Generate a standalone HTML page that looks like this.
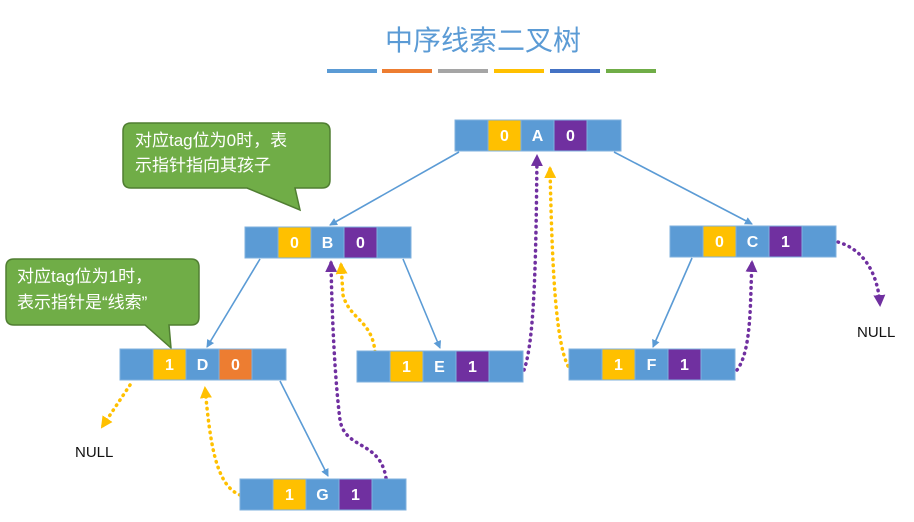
<!DOCTYPE html>
<html><head><meta charset="utf-8"><style>
body{margin:0;background:#fff;}
svg{display:block;font-family:"Liberation Sans","Noto Sans CJK SC",sans-serif;}
</style></head><body>
<svg width="914" height="522" viewBox="0 0 914 522" xmlns="http://www.w3.org/2000/svg">
<defs>
<marker id="ab" markerWidth="8" markerHeight="8" refX="7" refY="4" orient="auto" markerUnits="userSpaceOnUse"><path d="M0,0 L8,4 L0,8 z" fill="#5b9bd5"/></marker>
<marker id="ay" markerWidth="12" markerHeight="12" refX="10" refY="6" orient="auto" markerUnits="userSpaceOnUse"><path d="M0,0 L12,6 L0,12 z" fill="#ffc000"/></marker>
<marker id="ap" markerWidth="12" markerHeight="12" refX="10" refY="6" orient="auto" markerUnits="userSpaceOnUse"><path d="M0,0 L12,6 L0,12 z" fill="#7030a0"/></marker>
</defs>
<text x="483" y="50" font-size="28" fill="#5b9bd5" text-anchor="middle">中序线索二叉树</text>
<g stroke-width="4">
<line x1="327" y1="71" x2="377" y2="71" stroke="#5b9bd5"/>
<line x1="382" y1="71" x2="432" y2="71" stroke="#ed7d31"/>
<line x1="438" y1="71" x2="488" y2="71" stroke="#a5a5a5"/>
<line x1="494" y1="71" x2="544" y2="71" stroke="#ffc000"/>
<line x1="550" y1="71" x2="600" y2="71" stroke="#4472c4"/>
<line x1="606" y1="71" x2="656" y2="71" stroke="#70ad47"/>
</g>
<path d="M131,123 H322 Q330,123 330,131 V180 Q330,188 322,188 H295 L300,210 L247,188 H131 Q123,188 123,180 V131 Q123,123 131,123 Z" fill="#70ad47" stroke="#507e32" stroke-width="1.5"/>
<text x="135" y="146" font-size="17" fill="#fff">对应tag位为0时，表</text>
<text x="135" y="171" font-size="17" fill="#fff">示指针指向其孩子</text>
<path d="M14,259 H191 Q199,259 199,267 V317 Q199,325 191,325 H169 L171,348 L145,325 H14 Q6,325 6,317 V267 Q6,259 14,259 Z" fill="#70ad47" stroke="#507e32" stroke-width="1.5"/>
<text x="17" y="282" font-size="17" fill="#fff">对应tag位为1时，</text>
<text x="17" y="308" font-size="17" fill="#fff">表示指针是“线索”</text>
<g stroke="#5b9bd5" stroke-width="1.6" fill="none" marker-end="url(#ab)">
<line x1="459" y1="152" x2="330" y2="225"/>
<line x1="614" y1="152" x2="752" y2="224"/>
<line x1="260" y1="259" x2="207" y2="347"/>
<line x1="403" y1="259" x2="440" y2="348"/>
<line x1="280" y1="381" x2="328" y2="476"/>
<line x1="692" y1="258" x2="653" y2="347"/>
</g>
<g fill="none" stroke-width="3.5" stroke-dasharray="0.5 5.5" stroke-linecap="round">
<path d="M130,385 L102,427" stroke="#ffc000" marker-end="url(#ay)"/>
<path d="M240,495 C215,485 210,440 205,388" stroke="#ffc000" marker-end="url(#ay)"/>
<path d="M386,478 C380,440 345,450 340,420 C335,380 332,320 331,262" stroke="#7030a0" marker-end="url(#ap)"/>
<path d="M375,352 C372,320 350,320 343,295 L341,264" stroke="#ffc000" marker-end="url(#ay)"/>
<path d="M524,370 C535,340 536,250 537,156" stroke="#7030a0" marker-end="url(#ap)"/>
<path d="M568,366 C555,340 552,260 550,168" stroke="#ffc000" marker-end="url(#ay)"/>
<path d="M737,370 C752,350 750,300 752,262" stroke="#7030a0" marker-end="url(#ap)"/>
<path d="M838,242 C865,250 878,275 880,305" stroke="#7030a0" marker-end="url(#ap)"/>
</g>
<text x="75" y="457" font-size="15" fill="#111">NULL</text>
<text x="857" y="337" font-size="15" fill="#111">NULL</text>
<g font-size="16" font-weight="bold" fill="#fff" text-anchor="middle" stroke="none">
<g transform="translate(455,120)">
<rect x="0" y="0" width="33" height="31" fill="#5b9bd5" stroke="#7fb0de"/><rect x="33" y="0" width="33" height="31" fill="#ffc000" stroke="#7fb0de"/><rect x="66" y="0" width="33" height="31" fill="#5b9bd5" stroke="#7fb0de"/><rect x="99" y="0" width="33" height="31" fill="#7030a0" stroke="#7fb0de"/><rect x="132" y="0" width="34" height="31" fill="#5b9bd5" stroke="#7fb0de"/>
<text x="49.5" y="21">0</text><text x="82.5" y="21">A</text><text x="115.5" y="21">0</text></g>
<g transform="translate(245,227)">
<rect x="0" y="0" width="33" height="31" fill="#5b9bd5" stroke="#7fb0de"/><rect x="33" y="0" width="33" height="31" fill="#ffc000" stroke="#7fb0de"/><rect x="66" y="0" width="33" height="31" fill="#5b9bd5" stroke="#7fb0de"/><rect x="99" y="0" width="33" height="31" fill="#7030a0" stroke="#7fb0de"/><rect x="132" y="0" width="34" height="31" fill="#5b9bd5" stroke="#7fb0de"/>
<text x="49.5" y="21">0</text><text x="82.5" y="21">B</text><text x="115.5" y="21">0</text></g>
<g transform="translate(670,226)">
<rect x="0" y="0" width="33" height="31" fill="#5b9bd5" stroke="#7fb0de"/><rect x="33" y="0" width="33" height="31" fill="#ffc000" stroke="#7fb0de"/><rect x="66" y="0" width="33" height="31" fill="#5b9bd5" stroke="#7fb0de"/><rect x="99" y="0" width="33" height="31" fill="#7030a0" stroke="#7fb0de"/><rect x="132" y="0" width="34" height="31" fill="#5b9bd5" stroke="#7fb0de"/>
<text x="49.5" y="21">0</text><text x="82.5" y="21">C</text><text x="115.5" y="21">1</text></g>
<g transform="translate(120,349)">
<rect x="0" y="0" width="33" height="31" fill="#5b9bd5" stroke="#7fb0de"/><rect x="33" y="0" width="33" height="31" fill="#ffc000" stroke="#7fb0de"/><rect x="66" y="0" width="33" height="31" fill="#5b9bd5" stroke="#7fb0de"/><rect x="99" y="0" width="33" height="31" fill="#ed7d31" stroke="#7fb0de"/><rect x="132" y="0" width="34" height="31" fill="#5b9bd5" stroke="#7fb0de"/>
<text x="49.5" y="21">1</text><text x="82.5" y="21">D</text><text x="115.5" y="21">0</text></g>
<g transform="translate(357,351)">
<rect x="0" y="0" width="33" height="31" fill="#5b9bd5" stroke="#7fb0de"/><rect x="33" y="0" width="33" height="31" fill="#ffc000" stroke="#7fb0de"/><rect x="66" y="0" width="33" height="31" fill="#5b9bd5" stroke="#7fb0de"/><rect x="99" y="0" width="33" height="31" fill="#7030a0" stroke="#7fb0de"/><rect x="132" y="0" width="34" height="31" fill="#5b9bd5" stroke="#7fb0de"/>
<text x="49.5" y="21">1</text><text x="82.5" y="21">E</text><text x="115.5" y="21">1</text></g>
<g transform="translate(569,349)">
<rect x="0" y="0" width="33" height="31" fill="#5b9bd5" stroke="#7fb0de"/><rect x="33" y="0" width="33" height="31" fill="#ffc000" stroke="#7fb0de"/><rect x="66" y="0" width="33" height="31" fill="#5b9bd5" stroke="#7fb0de"/><rect x="99" y="0" width="33" height="31" fill="#7030a0" stroke="#7fb0de"/><rect x="132" y="0" width="34" height="31" fill="#5b9bd5" stroke="#7fb0de"/>
<text x="49.5" y="21">1</text><text x="82.5" y="21">F</text><text x="115.5" y="21">1</text></g>
<g transform="translate(240,479)">
<rect x="0" y="0" width="33" height="31" fill="#5b9bd5" stroke="#7fb0de"/><rect x="33" y="0" width="33" height="31" fill="#ffc000" stroke="#7fb0de"/><rect x="66" y="0" width="33" height="31" fill="#5b9bd5" stroke="#7fb0de"/><rect x="99" y="0" width="33" height="31" fill="#7030a0" stroke="#7fb0de"/><rect x="132" y="0" width="34" height="31" fill="#5b9bd5" stroke="#7fb0de"/>
<text x="49.5" y="21">1</text><text x="82.5" y="21">G</text><text x="115.5" y="21">1</text></g>
</g>
</svg>
</body></html>
